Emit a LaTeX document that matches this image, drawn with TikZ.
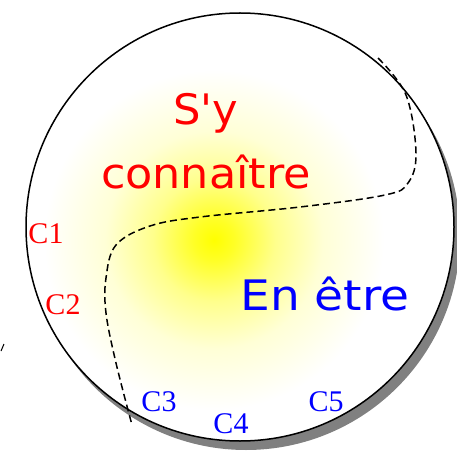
\documentclass[tikz,border=0pt]{standalone}
\usepackage{fontspec}
\setmainfont{Liberation Serif}
\newfontfamily\roundfont{DejaVu Sans}
\usepackage{tikz}
\usetikzlibrary{positioning}
\definecolor{myred}{RGB}{255,0,0}
\definecolor{myblue}{RGB}{0,0,255}
\definecolor{myshadow}{RGB}{128,128,128}
\definecolor{myglow}{RGB}{255,255,0}
\pgfdeclareradialshading{glow}{\pgfpoint{0bp}{0bp}}{color(0bp)=(myglow); color(3bp)=(myglow!85!white); color(9bp)=(myglow!45!white); color(16bp)=(myglow!16!white); color(25bp)=(white); color(50bp)=(white)}
\tikzset{
  bigtext/.style={font=\roundfont\fontsize{42}{48}\selectfont, anchor=base, inner sep=0pt},
  widen/.style={xscale=#1, transform shape},
  clabel/.style={font=\fontsize{30}{36}\selectfont, anchor=base, inner sep=0pt},
  border/.style={line width=1.5pt, draw=black},
  frontier/.style={line width=1.5pt, dash pattern=on 7pt off 4pt},
}

\begin{document}
\begin{tikzpicture}[x=1pt, y=1pt]
  \useasboundingbox (0,0) rectangle (457,453);

  % Shadow and disc
  \fill[myshadow] (246,217) circle (214);
  \fill[white] (240,226) circle (214);
  \begin{scope}
    \clip (240,226) circle (214);
    \shade[shading=glow] (214,213) circle (170);
  \end{scope}
  \draw[border] (240,226) circle (214);

  % Dashed frontier
  \draw[frontier] plot[smooth, tension=0.6] coordinates {
    (378,395) (406,358) (416,300) (408,270) (385,258) (300,246)
    (200,236) (150,227) (116,208) (106,175) (106,140) (116,90) (132,28)};

  % Main texts
  \node[bigtext, myred, widen=1.03] (sy) at (206,328) {S'y};
  \node[bigtext, myred, widen=1.06] (connaitre) at (206,265) {connaître};
  \node[bigtext, myblue, widen=1.12] (etre) at (325,143) {En être};

  % C labels
  \node[clabel, myred] (c1) at (46,210) {C1};
  \node[clabel, myred] (c2) at (63,139) {C2};
  \node[clabel, myblue] (c3) at (159,42) {C3};
  \node[clabel, myblue] (c4) at (231,20) {C4};
  \node[clabel, myblue] (c5) at (326,42) {C5};

  % Stray tick
  \draw[line width=1pt] (4,109) -- (1,102);
\end{tikzpicture}
\end{document}
